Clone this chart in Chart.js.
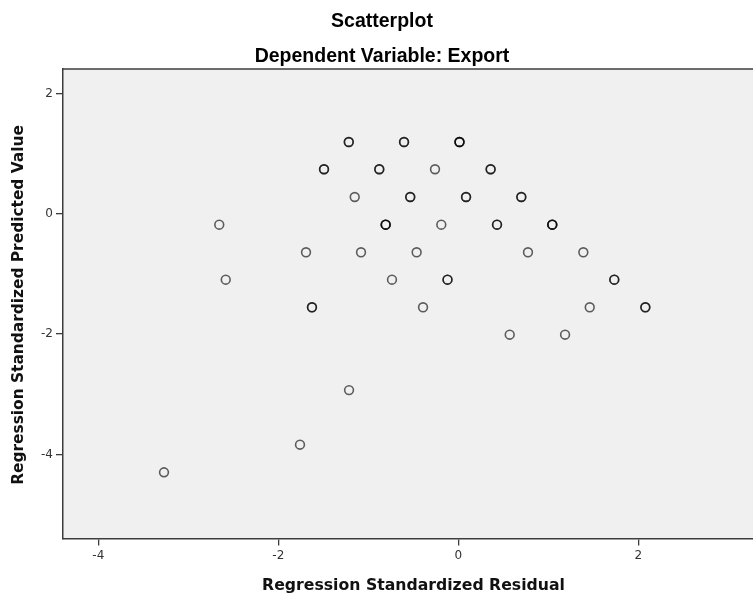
<!DOCTYPE html>
<html>
<head>
<meta charset="utf-8">
<script src="https://cdn.jsdelivr.net/npm/chart.js@4.4.0/dist/chart.umd.min.js"></script>
<style>
  html, body { margin: 0; padding: 0; background: #ffffff; }
  #wrap { width: 753px; height: 597px; position: relative; }
</style>
</head>
<body>
<div id="wrap"><canvas id="c" width="753" height="597"></canvas></div>
<script>
// Regression standardized residuals (x) and predicted values (y); repeated pairs are overlapping cases
const residuals = [
  -1.217, -1.217, -0.603, -0.603, 0.013, 0.013, 0.013,
  -1.492, -1.492, -0.878, -0.878, -0.259, 0.359, 0.359,
  -1.151, -0.534, -0.534, 0.086, 0.086, 0.700, 0.700,
  -2.656, -0.807, -0.807, -0.807, -0.189, 0.430, 0.430, 1.044, 1.044, 1.044,
  -1.692, -1.081, -0.463, 0.774, 1.389,
  -2.584, -0.737, -0.120, -0.120, 1.733, 1.733,
  -1.626, -1.626, -0.392, 1.460, 2.078, 2.078,
  0.571, 1.186,
  -1.214, -1.759, -3.270
];
const predicted = [
  1.193, 1.193, 1.193, 1.193, 1.193, 1.193, 1.193,
  0.740, 0.740, 0.740, 0.740, 0.740, 0.740, 0.740,
  0.279, 0.279, 0.279, 0.279, 0.279, 0.279, 0.279,
  -0.181, -0.181, -0.181, -0.181, -0.181, -0.181, -0.181, -0.181, -0.181, -0.181,
  -0.640, -0.640, -0.640, -0.640, -0.640,
  -1.095, -1.095, -1.095, -1.095, -1.095, -1.095,
  -1.554, -1.554, -1.554, -1.554, -1.554, -1.554,
  -2.009, -2.009,
  -2.930, -3.837, -4.296
];
const xTicks = [-4, -2, 0, 2];
const yTicks = [-4, -2, 0, 2];
const chartTitle = 'Scatterplot';
const chartSubtitle = 'Dependent Variable: Export';
const xTitle = 'Regression Standardized Residual';
const yTitle = 'Regression Standardized Predicted Value';

const points = residuals.map((x, i) => ({ x: x, y: predicted[i] }));

const decor = {
  id: 'decor',
  beforeDraw(chart) {
    const { ctx, chartArea: a } = chart;
    ctx.save();
    ctx.fillStyle = '#f0f0f0';
    ctx.fillRect(a.left, a.top, a.right - a.left, a.bottom - a.top);
    ctx.restore();
  },
  afterDraw(chart) {
    const { ctx, chartArea: a } = chart;
    ctx.save();
    ctx.strokeStyle = '#3c3c3c';
    ctx.lineWidth = 1.5;
    ctx.beginPath();
    ctx.moveTo(a.left, a.top);
    ctx.lineTo(a.right, a.top);
    ctx.stroke();

    ctx.fillStyle = '#000';
    ctx.textAlign = 'center';
    ctx.textBaseline = 'alphabetic';
    ctx.font = 'bold 19.5px "Liberation Sans", Arial, sans-serif';
    ctx.fillText(chartTitle, 382, 27);
    ctx.fillText(chartSubtitle, 382, 62);

    ctx.fillStyle = '#111';
    ctx.font = 'bold 15.7px "DejaVu Sans", sans-serif';
    ctx.fillText(xTitle, 413.5, 590);
    ctx.font = 'bold 15.4px "DejaVu Sans", sans-serif';
    ctx.translate(23, 305);
    ctx.rotate(-Math.PI / 2);
    ctx.fillText(yTitle, 0, 0);
    ctx.restore();
  }
};

new Chart(document.getElementById('c'), {
  type: 'scatter',
  data: {
    datasets: [{
      data: points,
      pointStyle: 'circle',
      pointRadius: 4.4,
      pointHoverRadius: 4.4,
      backgroundColor: 'rgba(0,0,0,0)',
      borderColor: 'rgba(0,0,0,0.62)',
      borderWidth: 1.6
    }]
  },
  options: {
    responsive: false,
    animation: false,
    devicePixelRatio: 1,
    layout: { autoPadding: false, padding: { top: 69, left: 0, right: 0, bottom: 0 } },
    plugins: {
      legend: { display: false },
      tooltip: { enabled: false },
      title: { display: false }
    },
    scales: {
      x: {
        type: 'linear',
        min: -4.392,
        max: 3.274,
        afterBuildTicks(s) { s.ticks = xTicks.map(v => ({ value: v })); },
        afterFit(s) { s.height = 58.5; },
        ticks: {
          font: { family: '"DejaVu Sans", sans-serif', size: 12 },
          color: '#333',
          padding: 3,
          maxRotation: 0
        },
        grid: { drawOnChartArea: false, drawTicks: true, tickLength: 7, color: '#3c3c3c', lineWidth: 1.3 },
        border: { display: true, color: '#3c3c3c', width: 1.5 }
      },
      y: {
        type: 'linear',
        min: -5.396,
        max: 2.406,
        afterBuildTicks(s) { s.ticks = yTicks.map(v => ({ value: v })); },
        afterFit(s) { s.width = 63; },
        ticks: {
          font: { family: '"DejaVu Sans", sans-serif', size: 12 },
          color: '#333',
          padding: 3
        },
        grid: { drawOnChartArea: false, drawTicks: true, tickLength: 7, color: '#3c3c3c', lineWidth: 1.3 },
        border: { display: true, color: '#3c3c3c', width: 1.5 }
      }
    }
  },
  plugins: [decor]
});
</script>
</body>
</html>
